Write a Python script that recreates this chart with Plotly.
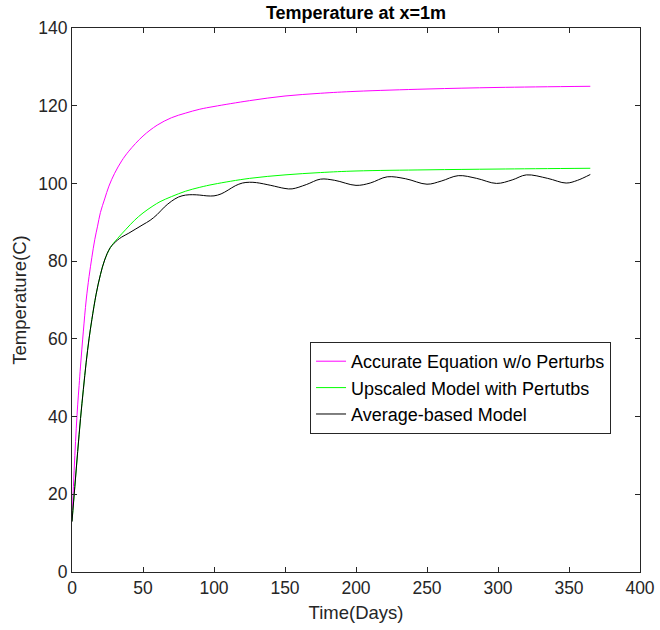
import plotly.graph_objects as go

# Accurate equation without perturbations (magenta)
t_acc = [0, 1, 2, 3, 4, 5, 6, 8, 10, 12, 14, 16, 18, 20, 23, 26, 30, 35, 40, 50, 60,
         70, 80, 90, 100, 125, 150, 175, 200, 250, 300, 365]
v_acc = [13, 22, 30, 37, 43, 48, 53, 62, 70, 76, 81, 85.5, 89, 92.5, 96, 99.3, 102.6,
         105.8, 108.3, 112.2, 115, 116.9, 118.1, 119.1, 119.8, 121.3, 122.5, 123.2,
         123.7, 124.3, 124.7, 125]

# Upscaled model with perturbations (green)
t_up = [0, 2, 4, 6, 8, 10, 12, 14, 17, 20, 23, 27, 32, 38, 44, 50, 57, 62, 70, 80,
        90, 100, 125, 150, 175, 200, 250, 300, 365]
v_up = [13, 22, 31, 39.5, 47, 54, 60, 65, 71.5, 76.5, 80.3, 83.5, 85.8, 88.2, 90.5,
        92.4, 94.2, 95.3, 96.6, 98, 99, 99.8, 101.3, 102.2, 102.8, 103.2, 103.5,
        103.7, 103.9]

# Average-based model (black)
t_avg = [0, 2, 4, 6, 8, 10, 12, 14, 17, 20, 23, 27, 32, 35, 40, 45, 50, 55, 60, 65,
         70, 75, 80, 85, 90, 95, 100, 105, 110, 115, 120, 125, 130, 140, 150, 155,
         165, 175, 185, 200, 210, 222, 235, 250, 260, 272, 285, 299, 310, 320, 335,
         348, 356, 365]
v_avg = [13, 22, 31, 39.5, 47, 54, 60, 65, 71.5, 76.5, 80.3, 83.5, 85.4, 86.2, 87.2,
         88.3, 89.4, 90.5, 92, 93.9, 95.4, 96.5, 97, 97.1, 97, 96.8, 96.8, 97.3, 98.3,
         99.4, 100.1, 100.3, 100.2, 99.5, 98.7, 98.6, 99.7, 101.1, 100.8, 99.5,
         100.1, 101.7, 101.2, 99.8, 100.6, 102, 101.3, 100.0, 100.9, 102.2, 101.3,
         100.1, 100.8, 102.3]

x_ticks = [0, 50, 100, 150, 200, 250, 300, 350, 400]
y_ticks = [0, 20, 40, 60, 80, 100, 120, 140]

FONT = "Liberation Sans, Arial"

fig = go.Figure()
fig.add_trace(go.Scatter(x=t_acc, y=v_acc, mode="lines", name="Accurate Equation w/o Perturbs",
                         line=dict(color="#FF00FF", width=1, shape="spline")))
fig.add_trace(go.Scatter(x=t_up, y=v_up, mode="lines", name="Upscaled Model with Pertutbs",
                         line=dict(color="#00FF00", width=1, shape="spline")))
fig.add_trace(go.Scatter(x=t_avg, y=v_avg, mode="lines", name="Average-based Model",
                         line=dict(color="#000000", width=1, shape="spline")))

axis_common = dict(showline=True, linecolor="#262626", linewidth=1, mirror="ticks",
                   ticks="inside", ticklen=5, tickcolor="#262626", showgrid=False,
                   zeroline=False, automargin=False,
                   tickfont=dict(family=FONT, size=17.5, color="#262626"))

fig.update_xaxes(range=[0, 400], tickvals=x_ticks, ticktext=[str(v) for v in x_ticks],
                 title=dict(text="Time(Days)", font=dict(family=FONT, size=18.5, color="#262626"), standoff=9),
                 **axis_common)
fig.update_yaxes(range=[0, 140], tickvals=y_ticks, ticktext=[str(v) for v in y_ticks],
                 title=dict(text="Temperature(C)", font=dict(family=FONT, size=18.5, color="#262626"), standoff=6),
                 **axis_common)

fig.update_layout(
    width=660, height=630,
    margin=dict(l=72, r=20, t=28, b=58),
    paper_bgcolor="white", plot_bgcolor="white",
    title=dict(text="<b>Temperature at x=1m</b>", x=0.5, xref="paper", xanchor="center",
               y=1 - 13 / 630, yanchor="middle",
               font=dict(family=FONT, size=18, color="black")),
    legend=dict(x=0.949, y=0.4228, xanchor="right", yanchor="top",
                bordercolor="#262626", borderwidth=1, bgcolor="white",
                font=dict(family=FONT, size=18, color="black"),
                tracegroupgap=0, itemwidth=30),
    showlegend=True,
)

fig.write_html("out.html")
